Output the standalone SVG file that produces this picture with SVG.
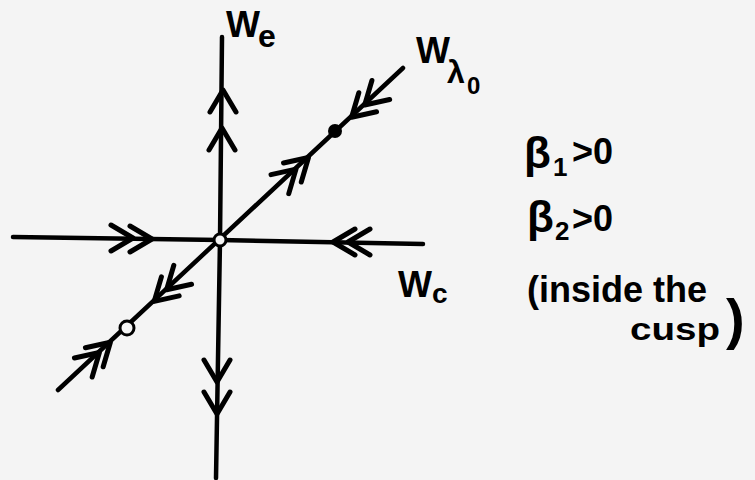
<svg xmlns="http://www.w3.org/2000/svg" xmlns:xlink="http://www.w3.org/1999/xlink" width="755" height="480" viewBox="0 0 755 480">
<style>
.ax{fill:none;stroke:#000;stroke-width:4.5;stroke-linecap:round;stroke-linejoin:round}
.ch{fill:none;stroke:#000;stroke-width:5;stroke-linecap:round;stroke-linejoin:round}
.lb{font-family:"Liberation Sans","DejaVu Sans",sans-serif;font-weight:bold;fill:#000}
</style>
<defs>
<path id="chev" d="M -22,-13 L 0,0 L -22,13"/>
</defs>
<rect width="755" height="480" fill="#f4f4f4"/>
<g id="connectors">
<polyline class="ax" points="222,37 220,240 216,478"/>
<polyline class="ax" points="13,237 220,240 423,244"/>
<line class="ax" x1="58" y1="390" x2="403" y2="68" stroke-width="5"/>
<g class="ch">
<use xlink:href="#chev" transform="translate(223,90) rotate(-90)"/>
<use xlink:href="#chev" transform="translate(222,128) rotate(-90)"/>
<use xlink:href="#chev" transform="translate(217,382) rotate(90)"/>
<use xlink:href="#chev" transform="translate(217,414) rotate(90)"/>
<use xlink:href="#chev" transform="translate(133,238) rotate(0)"/>
<use xlink:href="#chev" transform="translate(152,239) rotate(0)"/>
<use xlink:href="#chev" transform="translate(333,242) rotate(180)"/>
<use xlink:href="#chev" transform="translate(348,242) rotate(180)"/>
<use xlink:href="#chev" transform="translate(351.6,117.2) rotate(137)"/>
<use xlink:href="#chev" transform="translate(364.7,105) rotate(137)"/>
<use xlink:href="#chev" transform="translate(296,169.1) rotate(-43)"/>
<use xlink:href="#chev" transform="translate(308.5,157.5) rotate(-43)"/>
<use xlink:href="#chev" transform="translate(154.2,301.4) rotate(137)"/>
<use xlink:href="#chev" transform="translate(166.6,289.8) rotate(137)"/>
<use xlink:href="#chev" transform="translate(99.4,352.5) rotate(-43)"/>
<use xlink:href="#chev" transform="translate(110.4,342.3) rotate(-43)"/>
</g>
</g>
<g id="origin"><circle cx="220" cy="240" r="6" fill="#f4f4f4" stroke="#000" stroke-width="3"/></g>
<g id="saddle"><circle cx="335" cy="131" r="7" fill="#000"/></g>
<g id="node-open"><circle cx="127" cy="328" r="7" fill="#f4f4f4" stroke="#000" stroke-width="3"/></g>
<g id="label-we"><text class="lb" x="226" y="37" font-size="36">W<tspan x="258" y="47" font-size="32">e</tspan></text></g>
<g id="label-wl"><text class="lb" x="416" y="63" font-size="36">W<tspan x="447" y="83" font-size="32">λ</tspan><tspan x="467" y="94" font-size="24">0</tspan></text></g>
<g id="label-wc"><text class="lb" x="398" y="297" font-size="36">W<tspan x="432" y="303" font-size="28">c</tspan></text></g>
<g id="conditions">
<text class="lb" x="524" y="168" font-size="44">β</text>
<text class="lb" x="553" y="176" font-size="26">1</text>
<text class="lb" x="572" y="164" font-size="36">&gt;0</text>
<text class="lb" x="527" y="232" font-size="44">β</text>
<text class="lb" x="555" y="240" font-size="26">2</text>
<text class="lb" x="572" y="231" font-size="36">&gt;0</text>
<text class="lb" x="527" y="302" font-size="36" textLength="180" lengthAdjust="spacingAndGlyphs">(inside the</text>
<text class="lb" x="630" y="340" font-size="32" textLength="90" lengthAdjust="spacingAndGlyphs">cusp</text>
<text class="lb" x="726" y="338" font-size="56">)</text>
</g>
</svg>
